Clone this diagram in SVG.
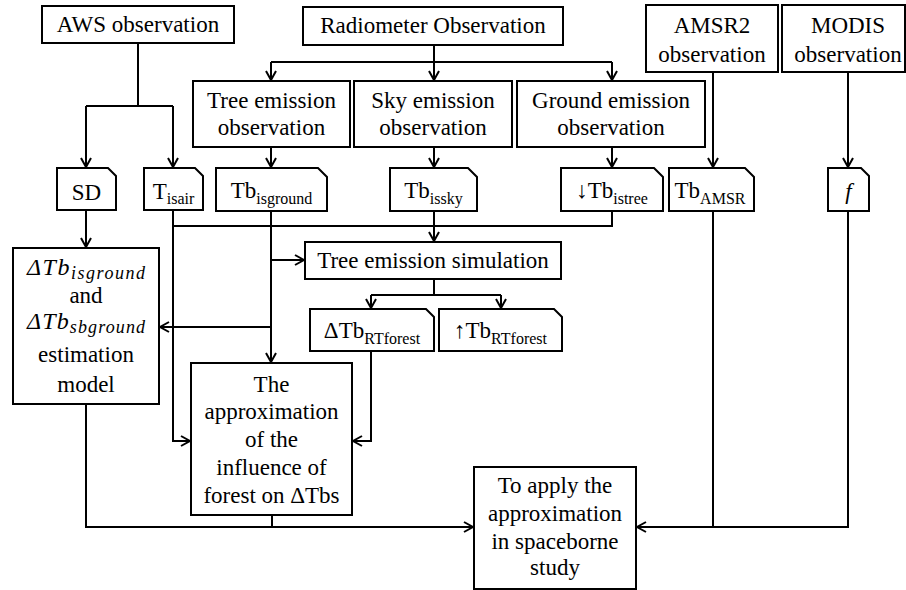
<svg xmlns="http://www.w3.org/2000/svg" width="906" height="590" viewBox="0 0 906 590">
  <defs>
    <marker id="arrow" markerUnits="userSpaceOnUse" markerWidth="12" markerHeight="12" refX="10" refY="6" orient="auto">
      <path d="M1,1 L10,6 L1,11" fill="none" stroke="#000" stroke-width="2"/>
    </marker>
    <style>
      .box { fill: #fff; stroke: #000; stroke-width: 2; }
      .t { font-size: 23px; fill: #000; text-anchor: middle; }
      .sub { font-size: 16px; }
      .m { font-style: italic; font-size: 24px; fill: #000; text-anchor: middle; }
      .msub { font-size: 18px; }
      .ln { fill: none; stroke: #000; stroke-width: 2; }
      .arr { fill: none; stroke: #000; stroke-width: 2; marker-end: url(#arrow); }
    </style>
  </defs>
  <rect width="906" height="590" fill="#fff"/>

  <!-- connectors -->
  <g id="connectors">
    <path class="ln" d="M138,43 V106 M86,106 H173"/>
    <path class="arr" d="M86,106 V167"/>
    <path class="arr" d="M173,106 V167"/>
    <path class="ln" d="M271,62 H612"/>
    <path class="arr" d="M434,45 V80"/>
    <path class="arr" d="M271,62 V80"/>
    <path class="arr" d="M612,62 V80"/>
    <path class="arr" d="M271,147 V167"/>
    <path class="arr" d="M434,147 V167"/>
    <path class="arr" d="M612,147 V167"/>
    <path class="arr" d="M713,72 V167"/>
    <path class="arr" d="M848,72 V167"/>
    <path class="arr" d="M86,210 V247"/>
    <path class="arr" d="M173,210 V441 H190"/>
    <path class="ln" d="M173,226 H612 V211"/>
    <path class="arr" d="M434,211 V241"/>
    <path class="arr" d="M271,211 V362"/>
    <path class="arr" d="M271,260 H304"/>
    <path class="arr" d="M271,327 H160"/>
    <path class="ln" d="M434,279 V295 M371,295 H501"/>
    <path class="arr" d="M371,295 V308"/>
    <path class="arr" d="M501,295 V308"/>
    <path class="arr" d="M371,351 V441 H353"/>
    <path class="arr" d="M86,404 V527 H473"/>
    <path class="ln" d="M272,515 V527"/>
    <path class="ln" d="M713,211 V527"/>
    <path class="arr" d="M848,211 V527 H637"/>
  </g>

  <g font-family="'Liberation Serif', 'Times New Roman', 'DejaVu Serif', serif">
  <!-- sources -->
  <g id="aws">
    <rect class="box" x="42" y="6" width="192" height="37"/>
    <text class="t" x="138" y="32">AWS observation</text>
  </g>
  <g id="radiometer">
    <rect class="box" x="303" y="7" width="260" height="38"/>
    <text class="t" x="433" y="33">Radiometer Observation</text>
  </g>
  <g id="amsr2">
    <rect class="box" x="646" y="5" width="132" height="67"/>
    <text class="t" x="712" y="33">AMSR2</text>
    <text class="t" x="712" y="62">observation</text>
  </g>
  <g id="modis">
    <rect class="box" x="782" y="5" width="123" height="67"/>
    <text class="t" x="848" y="33">MODIS</text>
    <text class="t" x="848" y="62">observation</text>
  </g>

  <!-- radiometer branches -->
  <g id="tree-obs">
    <rect class="box" x="193" y="81" width="157" height="66"/>
    <text class="t" x="271.5" y="108">Tree emission</text>
    <text class="t" x="271.5" y="135">observation</text>
  </g>
  <g id="sky-obs">
    <rect class="box" x="354" y="81" width="158" height="66"/>
    <text class="t" x="433" y="108">Sky emission</text>
    <text class="t" x="433" y="135">observation</text>
  </g>
  <g id="ground-obs">
    <rect class="box" x="517" y="81" width="188" height="66"/>
    <text class="t" x="611" y="108">Ground emission</text>
    <text class="t" x="611" y="135">observation</text>
  </g>

  <!-- data items -->
  <g id="sd">
    <path class="box" d="M57,168 H108 L116,176 V210 H57 Z"/>
    <text class="t" x="86.5" y="200">SD</text>
  </g>
  <g id="tisair">
    <path class="box" d="M144,168 H195 L203,176 V210 H144 Z"/>
    <text class="t" x="173.5" y="199">T<tspan class="sub" dy="5">isair</tspan></text>
  </g>
  <g id="tb-isground">
    <path class="box" d="M216,168 H318 L327,177 V211 H216 Z"/>
    <text class="t" x="271.5" y="198">Tb<tspan class="sub" dy="6">isground</tspan></text>
  </g>
  <g id="tb-issky">
    <path class="box" d="M390,168 H468 L477,177 V211 H390 Z"/>
    <text class="t" x="433.5" y="198">Tb<tspan class="sub" dy="6">issky</tspan></text>
  </g>
  <g id="tb-istree">
    <path class="box" d="M561,168 H654 L663,177 V211 H561 Z"/>
    <text class="t" x="612" y="198">↓Tb<tspan class="sub" dy="6">istree</tspan></text>
  </g>
  <g id="tb-amsr">
    <path class="box" d="M669,168 H745 L754,177 V211 H669 Z"/>
    <text class="t" x="710" y="198">Tb<tspan class="sub" dy="6">AMSR</tspan></text>
  </g>
  <g id="f">
    <path class="box" d="M828,168 H861 L869,176 V211 H828 Z"/>
    <text class="t" x="848.5" y="199" font-style="italic">f</text>
  </g>

  <!-- processing -->
  <g id="estimation-model">
    <rect class="box" x="13" y="248" width="146" height="156"/>
    <text class="m" x="86" y="275" textLength="118" lengthAdjust="spacing">ΔTb<tspan class="msub" dy="4">isground</tspan></text>
    <text class="t" x="86" y="303">and</text>
    <text class="m" x="86" y="329" textLength="118" lengthAdjust="spacing">ΔTb<tspan class="msub" dy="4">sbground</tspan></text>
    <text class="t" x="86" y="362">estimation</text>
    <text class="t" x="86" y="392">model</text>
  </g>
  <g id="tree-sim">
    <rect class="box" x="305" y="242" width="256" height="37"/>
    <text class="t" x="433" y="268">Tree emission simulation</text>
  </g>
  <g id="dtb-rtforest">
    <path class="box" d="M310,309 H426 L434,317 V351 H310 Z"/>
    <text class="t" x="372" y="338">ΔTb<tspan class="sub" dy="6">RTforest</tspan></text>
  </g>
  <g id="utb-rtforest">
    <path class="box" d="M439,309 H554 L562,317 V351 H439 Z"/>
    <text class="t" x="500.5" y="338">↑Tb<tspan class="sub" dy="6">RTforest</tspan></text>
  </g>
  <g id="approximation">
    <rect class="box" x="191" y="363" width="161" height="152"/>
    <text class="t" x="271.5" y="392">The</text>
    <text class="t" x="271.5" y="419">approximation</text>
    <text class="t" x="271.5" y="447">of the</text>
    <text class="t" x="271.5" y="475">influence of</text>
    <text class="t" x="271.5" y="503">forest on ΔTbs</text>
  </g>
  <g id="spaceborne">
    <rect class="box" x="474" y="467" width="162" height="122"/>
    <text class="t" x="555" y="493">To apply the</text>
    <text class="t" x="555" y="521">approximation</text>
    <text class="t" x="555" y="549">in spaceborne</text>
    <text class="t" x="555" y="575">study</text>
  </g>
  </g>
</svg>
